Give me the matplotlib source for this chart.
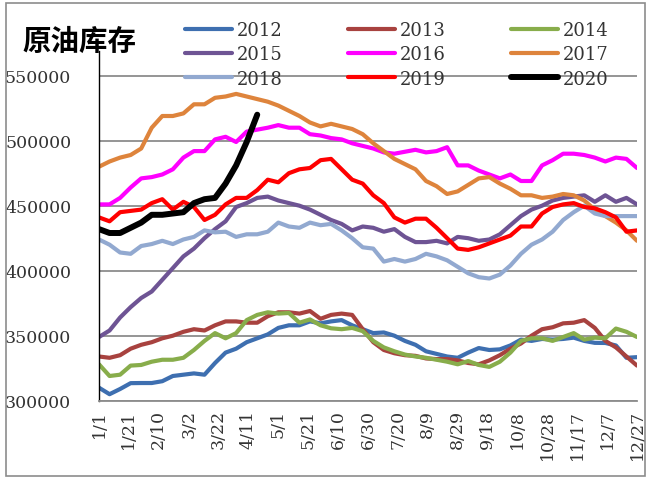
import matplotlib
matplotlib.use("Agg")
import matplotlib.pyplot as plt
from matplotlib.patches import Rectangle

plt.rcParams['font.family'] = ['DejaVu Serif']

tick_labels = ['1/1', '1/21', '2/10', '3/2', '3/22', '4/11', '5/1', '5/21', '6/10', '6/30',
               '7/20', '8/9', '8/29', '9/18', '10/8', '10/28', '11/17', '12/7', '12/27']
tick_days = [0, 20, 40, 60, 80, 100, 120, 140, 160, 180, 200, 220, 240, 260, 280, 300, 320, 340, 360]

y2012 = [310, 305, 309, 313.5, 313.6, 313.6, 315, 319, 320, 321, 320, 329, 337, 340, 345, 348, 351, 356,
         358, 358, 361, 359.5, 361, 362, 358, 355, 352, 352.5, 350, 346, 343, 338, 336, 334, 333, 337,
         340.5, 339, 339.5, 342.5, 347, 346, 347.5, 347, 347.5, 348.5, 346, 344.5, 344.4, 342.5, 333, 333.5]
y2013 = [334, 333, 335, 340, 343, 345, 348, 350, 353, 355, 354, 358, 361, 361, 360, 360, 365, 368,
         368, 367, 369, 363, 366, 367, 366, 355, 345, 339, 336.5, 335, 334.5, 332.5, 332, 332, 331, 329,
         328, 331, 335, 340, 344, 350, 355, 356.5, 359.5, 360, 362, 356, 346, 341, 334, 327]
y2014 = [328, 319, 320, 327, 327.5, 330, 331.5, 331.5, 333, 339, 346, 352, 348, 352, 362, 366, 368, 367,
         367.5, 360, 362.5, 358, 355.7, 355, 356, 353.5, 346, 341, 338, 335.5, 334, 333, 331.5, 330, 328, 330.5,
         327.5, 326, 330, 337, 346, 348, 348, 346, 349, 352, 347, 348.5, 348, 355.5, 353, 349]
y2015 = [349, 354, 364, 372, 379, 384, 393, 402, 411, 417, 425, 432, 438, 449, 452, 456, 457, 454,
         452, 450, 447, 443, 439, 436, 431, 434, 433, 430, 432, 426, 422, 422, 423, 421, 426, 425,
         423, 424, 428, 435, 442, 447, 450, 454, 456, 457, 458, 453, 458, 453, 456, 451]
y2016 = [451, 451, 456, 464, 471, 472, 474, 478, 487, 492, 492, 501, 503, 499, 507, 508.5, 510, 512,
         510, 510, 505, 504, 502, 501, 498, 496, 494, 491, 490, 491.5, 493, 491, 492, 495, 481, 481,
         477, 474, 471, 474, 469, 469, 481, 485, 490, 490, 489, 487, 484, 487, 486, 479]
y2017 = [480, 484, 487, 489, 494, 510, 519, 519, 521, 528, 528, 533, 534, 536, 534, 532, 530, 527,
         523, 519, 514, 511, 513, 511, 509, 505, 498, 492, 486, 482, 478, 469, 465, 459, 461, 466,
         471, 472, 467, 463, 458, 458, 456, 457, 459, 458, 454, 447, 442, 437, 431, 423]
y2018 = [424, 420, 414, 413, 419, 420.5, 423, 420.5, 424, 426, 431, 429.5, 430, 426, 428, 428, 430, 437,
         434, 433, 437, 435, 436, 431, 425, 418, 417, 407, 409, 407, 409, 413, 411, 408, 403, 398,
         395, 394, 397, 404, 413, 420, 424, 430, 439, 445, 450, 444, 442, 442, 442, 442]
y2019 = [441, 438, 445, 446, 447, 452, 455, 447, 453, 449, 439, 443, 451, 456, 456, 462, 470, 468,
         475, 478, 479, 485, 486, 478, 470, 467, 458, 452, 441, 437, 440, 440, 433, 425, 417, 416,
         418, 421, 424, 427, 434, 434, 444, 449, 451, 452, 449, 448, 445, 441, 430, 431]
y2020 = [432, 429, 429, 433, 437, 443, 443, 444, 445, 452, 455, 456, 467, 481, 499, 520]

years = ['2012', '2013', '2014', '2015', '2016', '2017', '2018', '2019', '2020']
series = [y2012, y2013, y2014, y2015, y2016, y2017, y2018, y2019, y2020]
colors = ['#3E6FB0', '#A8423F', '#88AD4B', '#6E5494', '#FF00FF', '#DE843C', '#92A9D0', '#FF0000', '#000000']
widths = [3.0, 3.0, 3.0, 3.0, 3.0, 3.0, 3.0, 3.0, 4.3]

W, H = 651, 481
fig = plt.figure(figsize=(W / 100, H / 100), dpi=100)
fig.patch.set_facecolor('white')

fig.patches.append(Rectangle((6 / W, 4 / H), (645 - 6) / W, (477 - 4) / H, transform=fig.transFigure,
                             fill=False, edgecolor='#8C8C8C', linewidth=1.2))

ax = fig.add_axes([99 / W, 1 - 401.7 / H, (637 - 99) / W, (401.7 - 52) / H])

n_weeks = len(y2012)
handles = {}
for yr, vals, c, lw in zip(years, series, colors, widths):
    xs = list(range(len(vals)))
    ln, = ax.plot(xs, [v * 1000 for v in vals], color=c, linewidth=lw,
                  solid_joinstyle='round', solid_capstyle='round', label=yr)
    handles[yr] = ln

ax.set_xlim(0, n_weeks - 1)
ax.set_ylim(300000, 569000)
ax.set_yticks([300000, 350000, 400000, 450000, 500000, 550000])
ax.set_yticklabels(['300000', '350000', '400000', '450000', '500000', '550000'])
ax.set_xticks([d / 360 * (n_weeks - 1) for d in tick_days])
ax.set_xticklabels(tick_labels, rotation=90, va='top', ha='center')
ax.tick_params(axis='both', length=0, labelsize=12.5, colors='#333333')
ax.tick_params(axis='y', pad=20)
ax.tick_params(axis='x', pad=6)
ax.grid(axis='y', color='#8C8C8C', linewidth=1.3)
ax.set_axisbelow(True)
for s in ['top', 'right']:
    ax.spines[s].set_visible(False)
ax.spines['bottom'].set_color('#8C8C8C')
ax.spines['bottom'].set_linewidth(1.3)
ax.spines['left'].set_color('#000000')
ax.spines['left'].set_linewidth(1.0)
ax.patch.set_alpha(0)

order = ['2012', '2015', '2018', '2013', '2016', '2019', '2014', '2017', '2020']
leg = fig.legend([handles[k] for k in order], order, ncol=3, frameon=False,
                 loc='upper left', bbox_to_anchor=(185 / W, 1 - 22 / H),
                 borderpad=0, borderaxespad=0, handlelength=2.6, handletextpad=0.28,
                 columnspacing=3.6, labelspacing=0.35, fontsize=13)
for t in leg.get_texts():
    t.set_color('#333333')
for l in leg.get_lines():
    l.set_solid_capstyle('round')

fig.text(22 / W, 1 - 42 / H, '原油库存', fontsize=20.5, fontweight='bold',
         family=['Noto Sans CJK SC', 'DejaVu Sans'], va='center', ha='left', color='#000000')

fig.savefig('out.png', dpi=100)
